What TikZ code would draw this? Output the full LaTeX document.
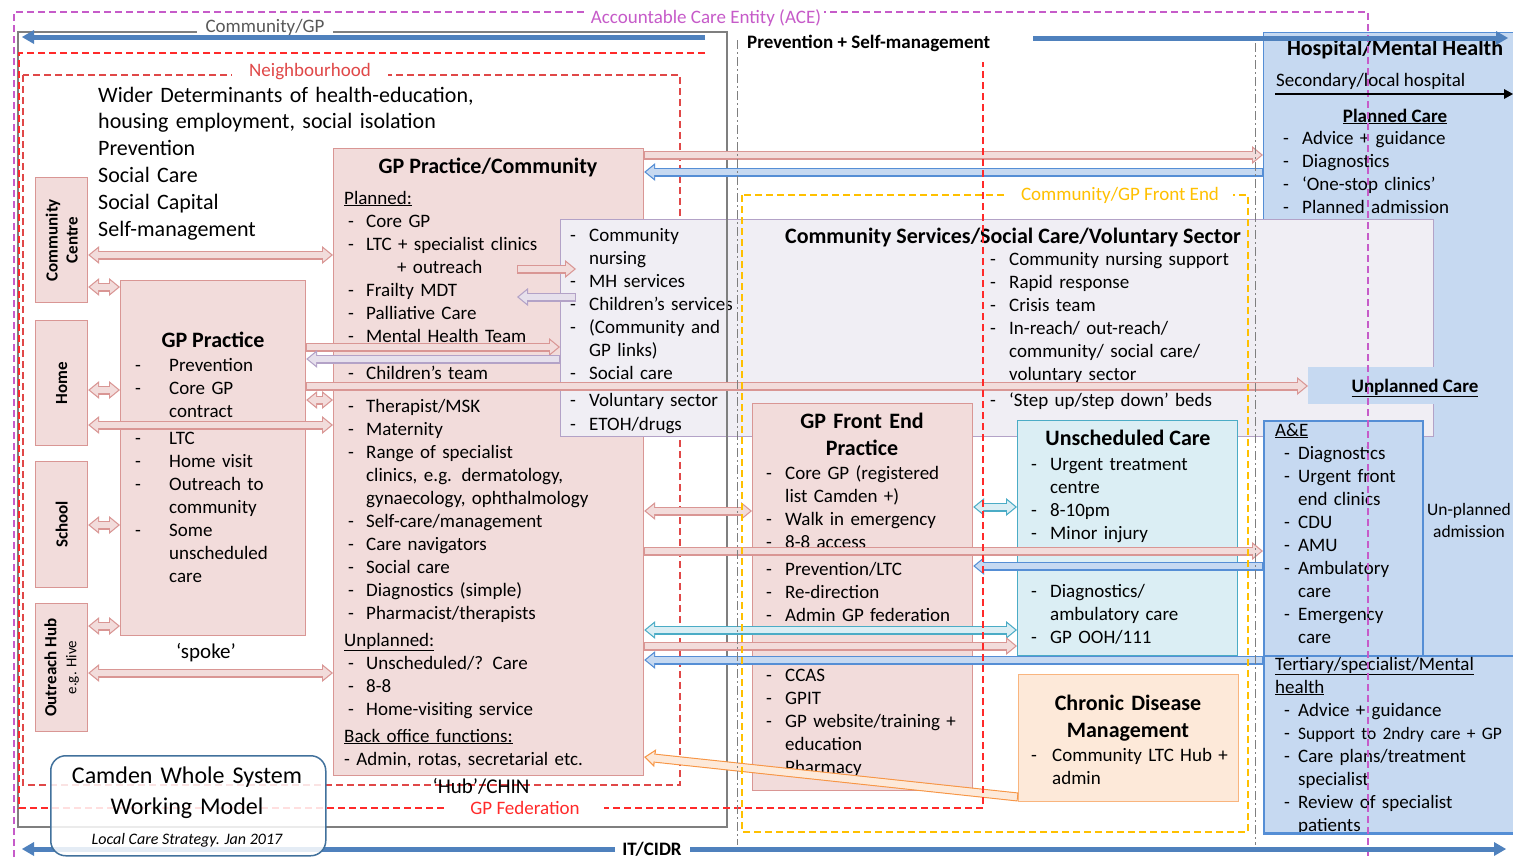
\documentclass[tikz,border=0pt]{standalone}
\usepackage{fontspec}
\setmainfont{Carlito}
\usetikzlibrary{arrows.meta}
\definecolor{pkF}{HTML}{F2DCDB}
\definecolor{pkD}{HTML}{D99694}
\definecolor{lvF}{HTML}{F0EEF4}
\definecolor{lvA}{HTML}{E6E0EC}
\definecolor{lvD}{HTML}{B3A2C7}
\definecolor{blF}{HTML}{C6D9F1}
\definecolor{blD}{HTML}{558ED5}
\definecolor{blL}{HTML}{4F81BD}
\definecolor{cyF}{HTML}{DBEEF4}
\definecolor{cyD}{HTML}{4BACC6}
\definecolor{orF}{HTML}{FDE9D9}
\definecolor{orD}{HTML}{F79646}
\definecolor{aceC}{HTML}{C65BC9}
\definecolor{fedC}{HTML}{FF2A2A}
\definecolor{nbC}{HTML}{E04848}
\definecolor{goldC}{HTML}{FFC000}
\definecolor{grayC}{HTML}{7F7F7F}
\definecolor{grayT}{HTML}{595959}
\definecolor{camC}{HTML}{41719C}
\newlength\dw \setlength\dw{19pt}
\newcommand\di{\makebox[\dw][l]{-}}
\newcommand\ct{\hspace*{\dw}}
\newcommand\barrow[5]{%
 \draw[line width=9pt,draw=#1,o#3] #4 -- #5;
 \draw[line width=6.6pt,draw=#2,i#3] #4 -- #5;
 \draw[line width=6.6pt,draw=#2,s#3] #4 -- #5;}
\tikzset{
 oR/.style={-{Triangle[length=11pt,width=18pt,line width=0pt]}},
 iR/.style={-{Triangle[length=7.9pt,width=12.9pt,line width=0pt]},shorten >=1.9pt,shorten <=1.2pt},
 sR/.style={-,shorten >=8pt,shorten <=1.2pt},
 oB/.style={{Triangle[length=11pt,width=18pt,line width=0pt]}-{Triangle[length=11pt,width=18pt,line width=0pt]}},
 iB/.style={{Triangle[length=7.9pt,width=12.9pt,line width=0pt]}-{Triangle[length=7.9pt,width=12.9pt,line width=0pt]},shorten >=1.9pt,shorten <=1.9pt},
 sB/.style={-,shorten >=8pt,shorten <=8pt},
 box/.style={draw,line width=1.2pt,anchor=north west,inner sep=0pt},
 pk/.style={box,draw=pkD,fill=pkF},
 lst/.style={anchor=base west,text width=#1,align=left,inner sep=0pt},
 ttl/.style={font=\bfseries\fontsize{22}{27}\selectfont,inner sep=0pt},
 lbl/.style={fill=white,inner ysep=3pt,inner xsep=#1},
 dsh/.style={dash pattern=on 7pt off 4pt},
 gdsh/.style={dash pattern=on 9pt off 3pt on 2pt off 3pt},
 thk/.style={line width=5pt,-{Triangle[length=12pt,width=14pt,line width=0pt]}},
}
\begin{document}
\begin{tikzpicture}[x=1pt,y=-1pt,font=\fontsize{19}{23}\selectfont]
\useasboundingbox (0,0) rectangle (1513,857);
\clip (0,0) rectangle (1513,857);
\fill[white] (0,0) rectangle (1513,857);

% hospital panel
\node[box,draw=blD,fill=blF,minimum width=262,minimum height=800] (hosp) at (1263,32) {};

% neighbourhood
\draw[nbC,dsh,line width=1.4pt] (23,75) rectangle (680,785);

% GP Practice / Community
\node[pk,minimum width=310,minimum height=627] (gpc) at (333,148) {};
\node[ttl] (gpcH) at (488,167) {GP Practice/Community};
\node[lst=295pt] (gpcL) at (348,204) {\setlength\dw{18pt}%
\hspace*{-4pt}\underline{Planned:}\\
\di Core GP\\
\di LTC + specialist clinics\\
\hspace*{49pt}+ outreach\\
\di Frailty MDT\\
\di Palliative Care\\
\di Mental Health Team\\[14pt]
\di Children’s team\\[10pt]
\di Therapist/MSK\\
\di Maternity\\
\di Range of specialist\\
\ct clinics, e.g. dermatology,\\
\ct gynaecology, ophthalmology\\
\di Self-care/management\\
\di Care navigators\\
\di Social care\\
\di Diagnostics (simple)\\
\di Pharmacist/therapists\\[4pt]
\hspace*{-4pt}\underline{Unplanned:}\\
\di Unscheduled/? Care\\
\di 8-8\\
\di Home-visiting service\\[4pt]
\hspace*{-4pt}\underline{Back office functions:}\\
\hspace*{-4pt}- Admin, rotas, secretarial etc.};

% Community services (lavender)
\node[box,draw=lvD,fill=lvF,minimum width=873,minimum height=217] (csv) at (560,219) {};
\node[ttl] (csvH) at (1013,238) {Community Services/Social Care/Voluntary Sector};
\node[lst=180pt] (csvL) at (570,241) {%
\di Community\\
\ct nursing\\
\di MH services\\
\di Children’s services\\
\di (Community and\\
\ct GP links)\\
\di Social care\\[4pt]
\di Voluntary sector\\[1pt]
\di ETOH/drugs};
\node[lst=260pt] (csvR) at (990,265) {%
\di Community nursing support\\
\di Rapid response\\
\di Crisis team\\
\di In-reach/ out-reach/\\
\ct community/ social care/\\
\ct voluntary sector\\[3pt]
\di ‘Step up/step down’ beds};

% unplanned care
\node[anchor=north west,fill=blF,minimum width=210,minimum height=37,inner sep=0pt] (unp) at (1308,367) {};
\node[font=\bfseries\fontsize{19}{23}\selectfont,anchor=base,inner sep=0pt] (unpT) at (1415,392) {\underline{Unplanned Care}};

% left small boxes
\node[pk,minimum width=52,minimum height=125] (cc) at (35,177) {};
\node[pk,minimum width=52,minimum height=125] (home) at (35,320) {};
\node[pk,minimum width=52,minimum height=126] (school) at (35,461) {};
\node[pk,minimum width=52,minimum height=128] (ohub) at (35,603) {};
\node[rotate=90,align=center,font=\bfseries\fontsize{17}{20}\selectfont] (ccT) at (cc.center) {Community\\Centre};
\node[rotate=90,font=\bfseries\fontsize{17}{20}\selectfont] (homeT) at (home.center) {Home};
\node[rotate=90,font=\bfseries\fontsize{17}{20}\selectfont] (schoolT) at (school.center) {School};
\node[rotate=90,align=center,font=\fontsize{17}{20}\selectfont] (ohubT) at (ohub.center) {\textbf{Outreach Hub}\\{\fontsize{15}{17}\selectfont e.g. Hive}};

% GP practice
\node[pk,minimum width=185,minimum height=355] (gpp) at (120,280) {};
\node[ttl] (gppH) at (213,340) {GP Practice};
\node[lst=170pt] (gppL) at (135,371) {\setlength\dw{34pt}%
\di Prevention\\
\di Core GP\\
\ct contract\\[4pt]
\di LTC\\
\di Home visit\\
\di Outreach to\\
\ct community\\
\di Some\\
\ct unscheduled\\
\ct care};

% GP front end
\node[pk,minimum width=220,minimum height=387] (fe) at (752,403) {};
\node[ttl,anchor=base,text width=210pt,align=center] (feH) at (862,428) {GP Front End\\Practice};
\node[lst=205pt] (feL) at (766,479) {%
\di Core GP (registered\\
\ct list Camden +)\\
\di Walk in emergency\\
\di 8-8 access\\[4pt]
\di Prevention/LTC\\
\di Re-direction\\
\di Admin GP federation\\[37pt]
\di CCAS\\
\di GPIT\\
\di GP website/training +\\
\ct education\\
\di Pharmacy};

% unscheduled care
\node[box,draw=cyD,fill=cyF,minimum width=220,minimum height=235] (uc) at (1017,420) {};
\node[ttl] (ucH) at (1128,438) {Unscheduled Care};
\node[lst=200pt] (ucL) at (1031,470) {%
\di Urgent treatment\\
\ct centre\\
\di 8-10pm\\
\di Minor injury\\[35pt]
\di Diagnostics/\\
\ct ambulatory care\\
\di GP OOH/111};

% chronic disease
\node[box,draw=orD!70,fill=orF,minimum width=220,minimum height=127] (cdm) at (1018,674) {};
\node[ttl,anchor=base,text width=210pt,align=center] (cdmH) at (1128,710) {Chronic Disease\\Management};
\node[lst=200pt] (cdmL) at (1031,761) {\setlength\dw{21pt}%
\di Community LTC Hub +\\
\ct admin};

% A&E
\node[box,draw=blD,fill=blF,line width=2pt,minimum width=159,minimum height=320] (ae) at (1263,420) {};
\node[lst=150pt] (aeL) at (1284,436) {\setlength\dw{14pt}%
\hspace*{-9pt}\underline{A\&E}\\
\di Diagnostics\\
\di Urgent front\\
\ct end clinics\\
\di CDU\\
\di AMU\\
\di Ambulatory\\
\ct care\\
\di Emergency\\
\ct care};
\node[anchor=base,text width=90pt,align=center,inner sep=0pt,font=\fontsize{17.5}{22}\selectfont] (unadm) at (1469,515) {Un-planned\\admission};

% tertiary
\node[box,draw=blD,fill=blF,line width=2pt,minimum width=262,minimum height=177] (ter) at (1263,655) {};
\node[lst=240pt] (terL) at (1284,670) {\setlength\dw{14pt}%
\hspace*{-9pt}\underline{Tertiary/specialist/Mental}\\
\hspace*{-9pt}\underline{health}\\
\di Advice + guidance\\
\di {\fontsize{17.5}{23}\selectfont Support to 2ndry care + GP}\\
\di Care plans/treatment\\
\ct specialist\\
\di Review of specialist\\
\ct patients};
\draw[blD,line width=3pt] (hosp.south west) -- (hosp.south east);

% hospital texts
\node[ttl] (hospH) at (1395,50) {Hospital/Mental Health};
\node[anchor=base west,inner sep=0pt] (hospS) at (1276,86) {Secondary/local hospital};
\node[anchor=base,font=\bfseries\fontsize{19}{23}\selectfont,inner sep=0pt] (hospP) at (1395,122) {\underline{Planned Care}};
\node[lst=220pt] (hospL) at (1283,144) {%
\di Advice + guidance\\
\di Diagnostics\\
\di ‘One-stop clinics’\\
\di Planned admission};

% free texts
\node[lst=420pt,font=\fontsize{22}{26.8}\selectfont] (wd) at (98,102) {Wider Determinants of health-education,\\
housing employment, social isolation\\
Prevention\\
Social Care\\
Social Capital\\
Self-management};
\node[font=\fontsize{21}{25}\selectfont,anchor=base,inner sep=0pt] (spoke) at (206,658) {‘spoke’};
\node[font=\fontsize{21}{25}\selectfont,anchor=base,inner sep=0pt] (hub) at (481,793) {‘Hub’/CHIN};

% community/GP solid box
\draw[grayC,line width=1.5pt] (18,32) rectangle (727,827);

% block arrows
\barrow{pkD}{pkF}{B}{(cc.east|-0,255)}{(gpc.west|-0,255)}
\barrow{pkD}{pkF}{B}{(cc.east|-0,287)}{(gpp.west|-0,287)}
\barrow{pkD}{pkF}{B}{(home.east|-0,390)}{(gpp.west|-0,390)}
\barrow{pkD}{pkF}{B}{(home.east|-0,425)}{(gpc.west|-0,425)}
\barrow{pkD}{pkF}{B}{(school.east|-0,525)}{(gpp.west|-0,525)}
\barrow{pkD}{pkF}{B}{(ohub.east|-0,626)}{(gpp.west|-0,626)}
\barrow{pkD}{pkF}{B}{(ohub.east|-0,673)}{(gpc.west|-0,673)}
\barrow{pkD}{pkF}{B}{(gpp.east|-0,400)}{(gpc.west|-0,400)}
\barrow{pkD}{pkF}{R}{(gpp.east|-0,347)}{(csv.west|-0,347)}
\barrow{lvD}{lvA}{R}{(csv.west|-0,359)}{(gpp.east|-0,359)}
\barrow{pkD}{pkF}{R}{(gpp.east|-0,386)}{(unp.west|-0,386)}
\coordinate (ouA) at (517,269);
\coordinate (ouB) at (576,269);
\coordinate (lvA1) at (576,297);
\coordinate (lvB1) at (517,297);
\barrow{pkD}{pkF}{R}{(ouA)}{(ouB)}
\barrow{lvD}{lvA}{R}{(lvA1)}{(lvB1)}
\barrow{pkD}{pkF}{R}{(gpc.east|-0,155)}{(hosp.west|-0,155)}
\barrow{blD}{blF}{R}{(hosp.west|-0,172)}{(gpc.east|-0,172)}
\barrow{pkD}{pkF}{B}{(gpc.east|-0,511)}{(fe.west|-0,511)}
\barrow{cyD}{cyF}{B}{(fe.east|-0,507)}{(uc.west|-0,507)}
\barrow{pkD}{pkF}{R}{(gpc.east|-0,551)}{(ae.west|-0,551)}
\barrow{blD}{blF}{R}{(ae.west|-0,566)}{(fe.east|-0,566)}
\barrow{cyD}{cyF}{B}{(gpc.east|-0,630)}{(uc.west|-0,630)}
\barrow{pkD}{pkF}{R}{(gpc.east|-0,646)}{(uc.west|-0,646)}
\barrow{blD}{blF}{R}{(ter.west|-0,660)}{(gpc.east|-0,660)}
\barrow{orD}{orF}{R}{(cdm.west|-0,797)}{(gpc.east|-0,757)}

% structure lines
\draw[fedC,dsh,line width=1.3pt] (705,53) -- (19,53) -- (19,808) -- (983,808) -- (983,62);
\draw[grayC,gdsh,line width=1pt] (737,40) -- (737,845);
\draw[grayC,gdsh,line width=1pt] (1255,43) -- (1255,845);
\draw[goldC,dsh,line width=1.3pt] (742,195) rectangle (1248,832);
\draw[aceC,dsh,line width=1.1pt] (14,857) -- (14,12) -- (1368,12) -- (1368,857);

% labels
\node[lbl=3pt,text=aceC] (aceL) at (706,18) {Accountable Care Entity (ACE)};
\node[lbl=9pt,text=grayT] (cgL) at (265,27) {Community/GP};
\node[lbl=17pt,text=nbC] (nbL) at (310,72) {Neighbourhood};
\node[lbl=14pt,text=goldC] (feL2) at (1120,195) {Community/GP Front End};
\node[lbl=24pt,text=fedC] (fedL) at (525,808) {GP Federation};
\node[anchor=base west,font=\bfseries\fontsize{19}{23}\selectfont,inner sep=0pt] (prevL) at (747,48) {Prevention + Self-management};

% thick line arrows
\coordinate (cg1) at (705,37);
\coordinate (cg2) at (22,37);
\draw[blL,thk] (cg1) -- (cg2);
\coordinate (pv1) at (1033,38);
\coordinate (pv2) at (1508,38);
\draw[blL,thk] (pv1) -- (pv2);
\coordinate (it1) at (615,849);
\coordinate (it2) at (22,849);
\coordinate (it3) at (690,849);
\coordinate (it4) at (1506,849);
\draw[blL,thk] (it1) -- (it2);
\draw[blL,thk] (it3) -- (it4);
\node[font=\bfseries\fontsize{19}{23}\selectfont] (itL) at (652,849) {IT/CIDR};
\coordinate (sh1) at (1275,94);
\coordinate (sh2) at (1513,94);
\draw[black,line width=2.5pt,-{Triangle[length=9pt,width=10pt,line width=0pt]}] (sh1) -- (sh2);

% Camden box
\node[box,draw=camC,line width=1.5pt,fill=white,fill opacity=0.85,rounded corners=15pt,minimum width=275,minimum height=100] (cam) at (50,755) {};
\node[anchor=base,text width=270pt,align=center,font=\fontsize{24}{31}\selectfont,inner sep=0pt] (camT) at (187,783) {Camden Whole System\\Working Model};
\node[font=\itshape\fontsize{16}{18}\selectfont] (camS) at (187,840) {Local Care Strategy. Jan 2017};
\end{tikzpicture}
\end{document}
